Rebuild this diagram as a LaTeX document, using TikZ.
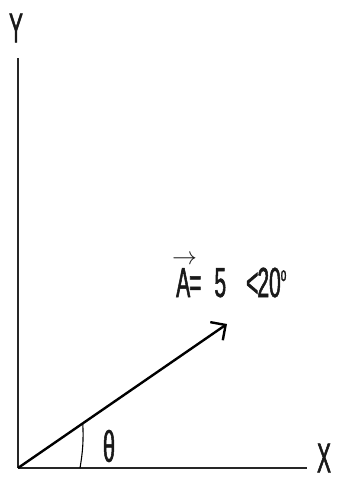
\documentclass[tikz,border=0pt]{standalone}
\usepackage{fontspec}
\usepackage{tikz}
\usetikzlibrary{arrows.meta, positioning, calc}
\newfontfamily\handfont[FakeStretch=0.5, FakeBold=1.2]{Liberation Sans}

\begin{document}
\begin{tikzpicture}[x=1pt, y=-1pt,
    axis/.style={draw=black!85, line width=1.4pt},
    vect/.style={draw=black, line width=2.4pt, -{Straight Barb[length=11pt, width=22pt, line width=2.4pt]}},
    lbl/.style={font=\handfont\fontsize{42}{42}\selectfont, inner sep=0pt, text=black!90}
]
    \useasboundingbox (0,0) rectangle (337,477);
    % origin and axis ends
    \coordinate (O) at (18,468);
    \coordinate (xend) at (307,468);
    \coordinate (yend) at (18,58);
    \coordinate (tip) at (227,324);

    \draw[axis] (O) -- (xend);
    \draw[axis] (O) -- (yend);
    \node[lbl] (ylab) at (16,28) {Y};
    \node[lbl] (xlab) at (324,458) {X};

    % the vector
    \draw[vect] (O) -- (tip);
    \node[lbl, anchor=base west] (alab) at (176,297)
        {\rlap{\kern-4pt\raisebox{33pt}{\fontsize{26}{26}\selectfont$\rightarrow$}}A\kern-1pt=\hspace{13pt}5\hspace{20pt}<\kern-1pt20\raisebox{16pt}{\fontsize{20}{20}\selectfont o}};

    % angle mark
    \coordinate (arcA) at ($(O)!0.31!(tip)$);
    \draw[line width=1.1pt] (arcA) to[bend left=6] (80,468);
    \node[lbl, font=\handfont\fontsize{44}{44}\selectfont] (theta) at (109,446) {θ};
\end{tikzpicture}
\end{document}
